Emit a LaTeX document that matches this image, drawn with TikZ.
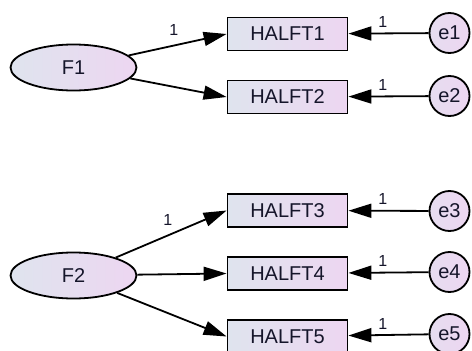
\documentclass[tikz,border=0pt]{standalone}
\usepackage{fontspec}
\setmainfont{Liberation Sans}
\usetikzlibrary{arrows.meta, shapes.geometric}

\begin{document}
\begin{tikzpicture}[x=1pt, y=-1pt,
    obs/.style={draw, rectangle, line width=1.8pt, minimum width=120pt, minimum height=33pt, left color=boxleft, right color=boxright, font=\fontsize{20}{22}\selectfont, text=txt},
    lat/.style={draw, ellipse, line width=1.8pt, minimum width=126pt, minimum height=46pt, left color=boxleft, right color=boxright, font=\fontsize{20}{22}\selectfont, text=txt},
    err/.style={draw, circle, line width=1.8pt, minimum size=40pt, inner sep=0pt, left color=errleft, right color=boxright, font=\fontsize{20}{22}\selectfont, text=txt},
    regr/.style={line width=1.8pt, -{Triangle[length=23pt, width=14pt]}},
    wt/.style={font=\fontsize{16}{18}\selectfont, text=txt, inner sep=1pt}]
    \definecolor{boxleft}{HTML}{DFE4EE}
    \definecolor{boxright}{HTML}{EDD6F1}
    \definecolor{errleft}{HTML}{E6DDF0}
    \definecolor{txt}{HTML}{15152A}
    \useasboundingbox (0,0) rectangle (472,351);
    \node (F1) at (73.5,67.5) [lat] {F1};
    \node (F2) at (73.5,275.5) [lat] {F2};
    \node (h1) at (287.5,34) [obs] {HALFT1};
    \node (h2) at (287.5,97) [obs] {HALFT2};
    \node (h3) at (287.5,210.5) [obs] {HALFT3};
    \node (h4) at (287.5,273.5) [obs] {HALFT4};
    \node (h5) at (287.5,336.5) [obs] {HALFT5};
    \node (e1) at (449.5,33) [err] {e1};
    \node (e2) at (449.5,96) [err] {e2};
    \node (e3) at (449.5,211) [err] {e3};
    \node (e4) at (449.5,272) [err] {e4};
    \node (e5) at (449.5,334) [err] {e5};
    \draw[regr] (F1) -- node[wt, pos=0.46, above=8pt] {1} (h1.west);
    \draw[regr] (F1) -- (h2.west);
    \draw[regr] (F2) -- node[wt, pos=0.47, above=8pt] {1} (h3.west);
    \draw[regr] (F2) -- (h4.west);
    \draw[regr] (F2) -- (h5.west);
    \draw[regr] (e1) -- node[wt, pos=0.57, above=4pt] {1} (h1);
    \draw[regr] (e2) -- node[wt, pos=0.57, above=4pt] {1} (h2);
    \draw[regr] (e3) -- node[wt, pos=0.57, above=4pt] {1} (h3);
    \draw[regr] (e4) -- node[wt, pos=0.57, above=4pt] {1} (h4);
    \draw[regr] (e5) -- node[wt, pos=0.57, above=4pt] {1} (h5);
\end{tikzpicture}
\end{document}
